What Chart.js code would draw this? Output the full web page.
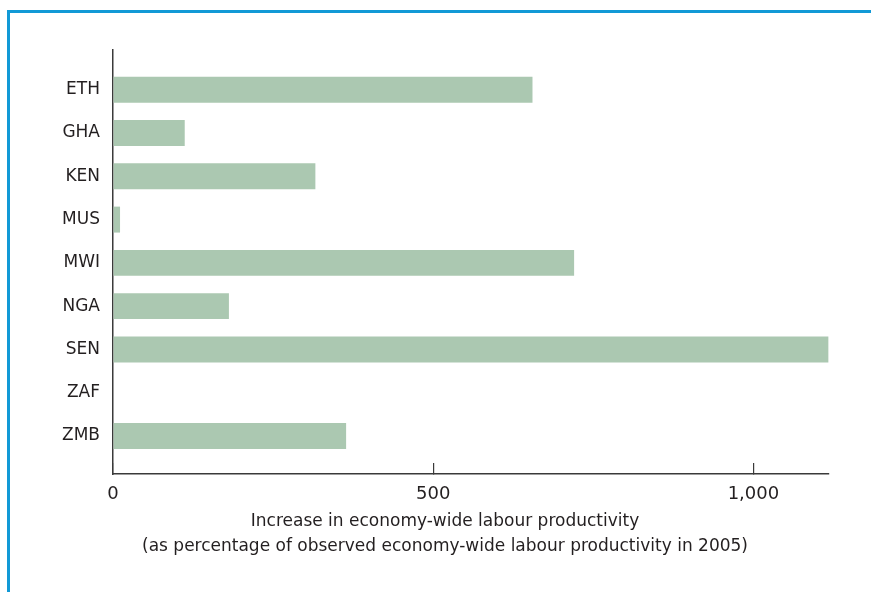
<!DOCTYPE html>
<html>
<head>
<meta charset="utf-8">
<script src="https://cdn.jsdelivr.net/npm/chart.js@4"></script>
<style>
  body { margin: 0; background: #fff; overflow: hidden; }
  #frame {
    position: absolute; left: 7px; top: 10px; width: 900px; height: 620px;
    border-top: 3px solid #1199d6; border-left: 3px solid #1199d6;
  }
  #myChart { position: absolute; left: 0; top: 0; }
</style>
</head>
<body>
<div id="frame"></div>
<canvas id="myChart" width="871" height="592"></canvas>
<script>
const countries = ['ETH', 'GHA', 'KEN', 'MUS', 'MWI', 'NGA', 'SEN', 'ZAF', 'ZMB'];
const increase = [655, 112, 316, 11, 720, 181, 1117, 0, 364];
const xTicks = [0, 500, 1000];
const titleLines = [
    'Increase in economy-wide labour productivity',
    '(as percentage of observed economy-wide labour productivity in 2005)'
];

const textColor = '#231f20';
const fontFamily = '"DejaVu Sans", "Liberation Sans", sans-serif';

// axis caption, centred a little left of the plot like the original
const captionPlugin = {
    id: 'caption',
    afterDraw(chart) {
        const ctx = chart.ctx;
        const area = chart.chartArea;
        ctx.save();
        ctx.fillStyle = textColor;
        ctx.font = '17px ' + fontFamily;
        ctx.textAlign = 'center';
        ctx.textBaseline = 'middle';
        titleLines.forEach((line, i) => {
            ctx.fillText(line, 445, area.bottom + 48 + i * 25);
        });
        ctx.restore();
    }
};

var ctx = document.getElementById('myChart').getContext('2d');
new Chart(ctx, {
    type: 'bar',
    data: {
        datasets: [{
            data: increase.map((v, i) => ({ x: v, y: i })),
            backgroundColor: '#abc8b1',
            borderWidth: 0,
            categoryPercentage: 1,
            barPercentage: 0.6
        }]
    },
    options: {
        indexAxis: 'y',
        responsive: false,
        animation: false,
        layout: {
            padding: { left: 0, right: 42, top: 50, bottom: 0 }
        },
        plugins: {
            legend: { display: false },
            tooltip: { enabled: false }
        },
        scales: {
            y: {
                type: 'linear',
                offset: false,
                reverse: true,
                min: -0.92,
                max: 8.88,
                afterBuildTicks: (scale) => {
                    scale.ticks = countries.map((c, i) => ({ value: i }));
                },
                afterFit: (scale) => { scale.width = 113; },
                grid: { display: false, drawTicks: false, offset: false },
                border: { display: true, color: '#3a3a3a', width: 1.5 },
                ticks: {
                    padding: 13,
                    color: textColor,
                    font: { size: 17, family: fontFamily },
                    callback: (value) => countries[value]
                }
            },
            x: {
                type: 'linear',
                min: 0,
                max: 1118,
                afterBuildTicks: (scale) => {
                    scale.ticks = xTicks.map(v => ({ value: v }));
                },
                afterFit: (scale) => { scale.height = 118; },
                grid: {
                    drawOnChartArea: false,
                    tickLength: -11,
                    color: '#3a3a3a',
                    lineWidth: 1.2
                },
                border: { display: true, color: '#3a3a3a', width: 1.5 },
                ticks: {
                    padding: 21,
                    maxRotation: 0,
                    color: textColor,
                    font: { size: 18, family: fontFamily },
                    callback: (value) => value.toLocaleString('en-US')
                }
            }
        }
    },
    plugins: [captionPlugin]
});
</script>
</body>
</html>
